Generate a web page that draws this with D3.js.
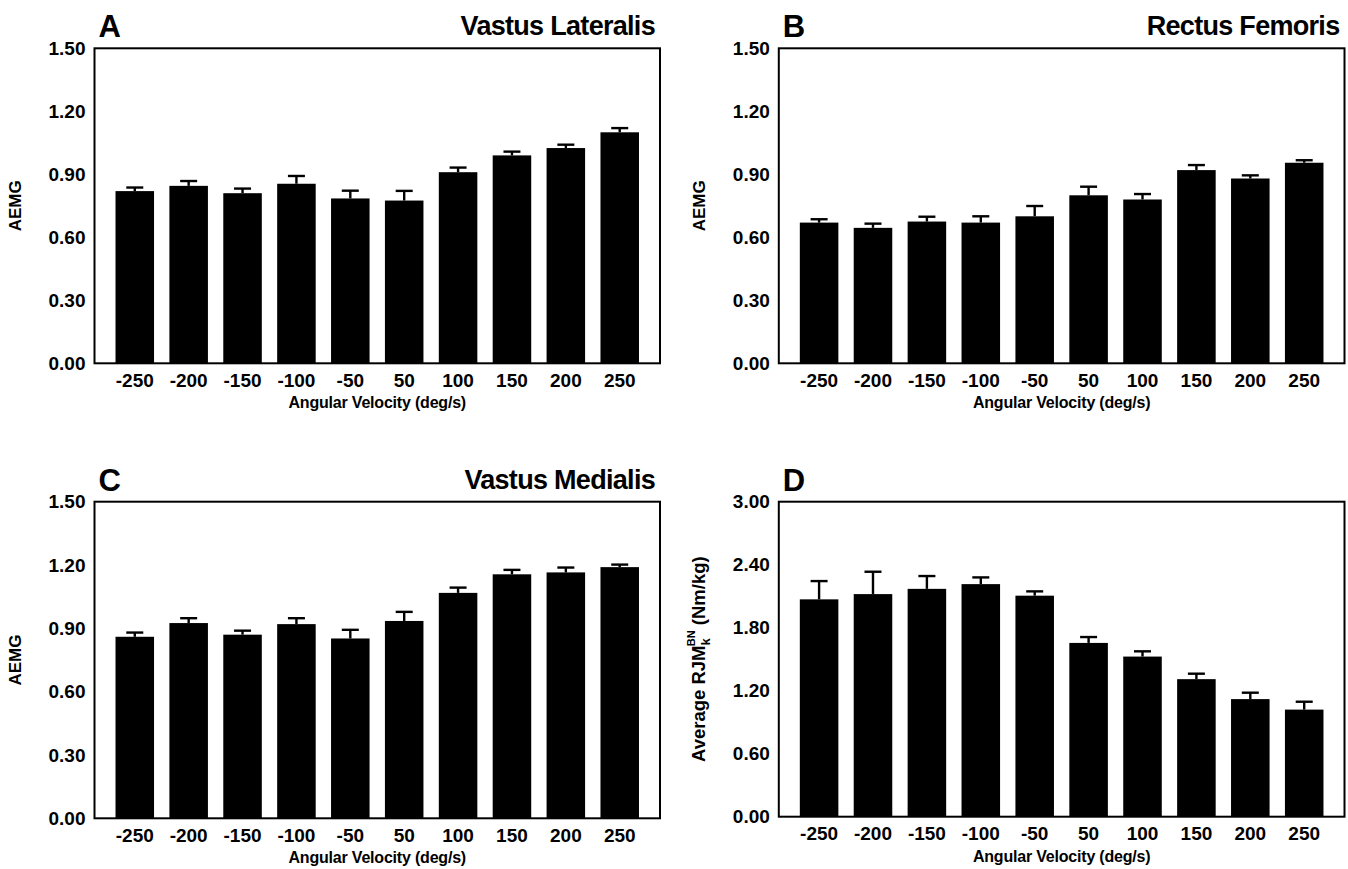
<!DOCTYPE html>
<html>
<head>
<meta charset="utf-8">
<script src="https://cdn.jsdelivr.net/npm/d3@7"></script>
<style>
  html, body { margin: 0; padding: 0; background: #fff; }
  svg { display: block; }
  text { font-family: "Liberation Sans", Arial, Helvetica, sans-serif; font-weight: bold; fill: #000; }
</style>
</head>
<body>
<svg id="chart" width="1348" height="869"></svg>
<script>
// Angular velocity conditions (deg/s)
const velocities = ["-250", "-200", "-150", "-100", "-50", "50", "100", "150", "200", "250"];

// Vastus lateralis AEMG: means and standard errors
const vlMeans = [0.820, 0.845, 0.810, 0.855, 0.785, 0.775, 0.910, 0.990, 1.025, 1.100];
const vlErr   = [0.017, 0.023, 0.022, 0.037, 0.037, 0.046, 0.022, 0.018, 0.016, 0.020];

// Rectus femoris AEMG
const rfMeans = [0.670, 0.645, 0.675, 0.670, 0.700, 0.800, 0.780, 0.920, 0.880, 0.955];
const rfErr   = [0.016, 0.020, 0.023, 0.030, 0.049, 0.041, 0.026, 0.024, 0.015, 0.012];

// Vastus medialis AEMG
const vmMeans = [0.860, 0.925, 0.870, 0.920, 0.852, 0.935, 1.068, 1.156, 1.165, 1.190];
const vmErr   = [0.020, 0.023, 0.019, 0.028, 0.041, 0.043, 0.025, 0.021, 0.023, 0.012];

// Average normalised resultant knee joint moment (Nm/kg)
const rjmMeans = [2.070, 2.120, 2.170, 2.215, 2.105, 1.655, 1.525, 1.310, 1.120, 1.020];
const rjmErr   = [0.174, 0.213, 0.122, 0.064, 0.041, 0.056, 0.050, 0.052, 0.061, 0.075];

// Y-axis tick values
const aemgTicks = [0, 0.3, 0.6, 0.9, 1.2, 1.5];
const rjmTicks  = [0, 0.6, 1.2, 1.8, 2.4, 3.0];

const svg = d3.select("#chart");

const panels = [
  { letter: "A", title: "Vastus Lateralis", means: vlMeans, errs: vlErr, ticks: aemgTicks,
    left: 94.5, right: 660, top: 48.3, bottom: 363.3, ylabel: "AEMG" },
  { letter: "B", title: "Rectus Femoris", means: rfMeans, errs: rfErr, ticks: aemgTicks,
    left: 778.8, right: 1344.5, top: 48.3, bottom: 363.3, ylabel: "AEMG" },
  { letter: "C", title: "Vastus Medialis", means: vmMeans, errs: vmErr, ticks: aemgTicks,
    left: 94.5, right: 660, top: 501.7, bottom: 818.3, ylabel: "AEMG" },
  { letter: "D", title: "", means: rjmMeans, errs: rjmErr, ticks: rjmTicks,
    left: 778.8, right: 1344.5, top: 501.7, bottom: 816.7, ylabel: null }
];

panels.forEach(p => {
  const g = svg.append("g");
  const yMax = p.ticks[p.ticks.length - 1];

  const x = d3.scaleBand()
    .domain(velocities)
    .range([p.left, p.right])
    .paddingInner(0.285)
    .paddingOuter(0.39);

  const y = d3.scaleLinear()
    .domain([0, yMax])
    .range([p.bottom, p.top]);

  const rows = velocities.map((v, i) => ({ v, m: p.means[i], e: p.errs[i] }));

  // Error bars (upper half only; the lower half is hidden by the bar)
  const eg = g.append("g").attr("stroke", "#000").attr("stroke-width", 2.4);
  eg.selectAll("line.stem").data(rows).join("line")
    .attr("class", "stem")
    .attr("x1", d => x(d.v) + x.bandwidth() / 2)
    .attr("x2", d => x(d.v) + x.bandwidth() / 2)
    .attr("y1", d => y(d.m))
    .attr("y2", d => y(d.m + d.e));
  eg.selectAll("line.cap").data(rows).join("line")
    .attr("class", "cap")
    .attr("x1", d => x(d.v) + x.bandwidth() / 2 - 8.5)
    .attr("x2", d => x(d.v) + x.bandwidth() / 2 + 8.5)
    .attr("y1", d => y(d.m + d.e))
    .attr("y2", d => y(d.m + d.e));

  // Bars
  g.append("g").selectAll("rect").data(rows).join("rect")
    .attr("x", d => x(d.v))
    .attr("width", x.bandwidth())
    .attr("y", d => y(d.m))
    .attr("height", d => y(0) - y(d.m))
    .attr("fill", "#000");

  // Frame
  g.append("rect")
    .attr("x", p.left).attr("y", p.top)
    .attr("width", p.right - p.left).attr("height", p.bottom - p.top)
    .attr("fill", "none").attr("stroke", "#000").attr("stroke-width", 2);

  // Y axis
  const ya = g.append("g")
    .attr("transform", `translate(${p.left},0)`)
    .call(d3.axisLeft(y).tickValues(p.ticks).tickFormat(d3.format(".2f")).tickSize(0).tickPadding(9));
  ya.select(".domain").remove();
  ya.selectAll("text").style("font-size", "19px").attr("font-family", null);

  // X axis
  const xa = g.append("g")
    .attr("transform", `translate(0,${p.bottom})`)
    .call(d3.axisBottom(x).tickSize(0).tickPadding(10));
  xa.select(".domain").remove();
  xa.selectAll("text").style("font-size", "19px").attr("font-family", null);

  // X title
  g.append("text")
    .attr("x", (p.left + p.right) / 2)
    .attr("y", p.bottom + 45)
    .attr("text-anchor", "middle")
    .style("font-size", "16px")
    .style("letter-spacing", "-0.2px")
    .text("Angular Velocity (deg/s)");

  // Y title
  const yt = g.append("text")
    .attr("transform", `translate(${p.left - 74},${(p.top + p.bottom) / 2}) rotate(-90)`)
    .attr("text-anchor", "middle")
    .style("font-size", p.ylabel ? "17px" : "18.5px");
  if (p.ylabel) {
    yt.text(p.ylabel);
  } else {
    yt.append("tspan").text("Average RJM");
    yt.append("tspan").text("k").style("font-size", "13px").attr("dy", 5);
    yt.append("tspan").text("BN").style("font-size", "11px").attr("dx", -8).attr("dy", -15);
    yt.append("tspan").text(" (Nm/kg)").attr("dy", 10);
  }

  // Panel letter
  g.append("text")
    .attr("x", p.left + 4)
    .attr("y", p.top - 11)
    .style("font-size", "31px")
    .text(p.letter);

  // Muscle title
  if (p.title) {
    g.append("text")
      .attr("x", p.right - 5)
      .attr("y", p.top - 13)
      .attr("text-anchor", "end")
      .style("font-size", "27px")
      .style("letter-spacing", "-0.7px")
      .text(p.title);
  }
});
</script>
</body>
</html>
